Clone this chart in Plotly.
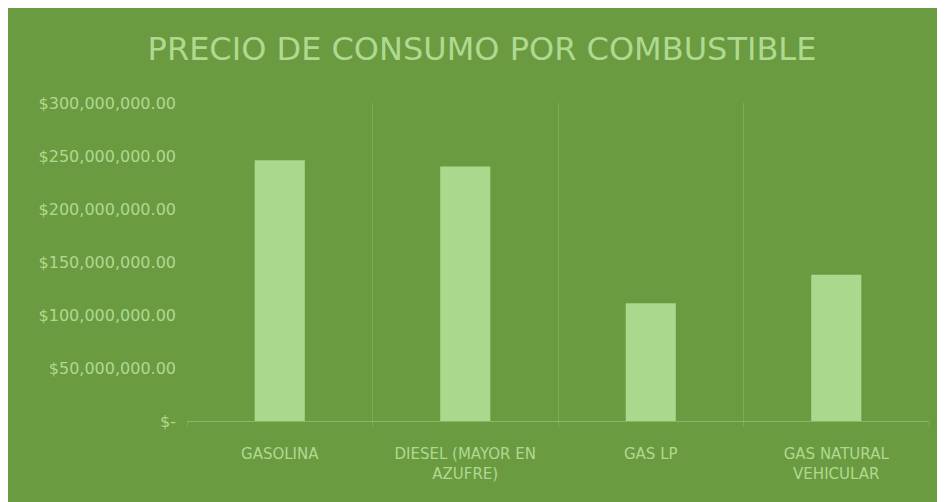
import plotly.graph_objects as go

categories = ["GASOLINA", "DIESEL (MAYOR EN<br>AZUFRE)", "GAS LP", "GAS NATURAL<br>VEHICULAR"]
values = [246_000_000, 240_000_000, 111_000_000, 138_000_000]
tick_vals = [0, 50_000_000, 100_000_000, 150_000_000, 200_000_000, 250_000_000, 300_000_000]
tick_text = ["$-", "$50,000,000.00", "$100,000,000.00", "$150,000,000.00",
             "$200,000,000.00", "$250,000,000.00", "$300,000,000.00"]
title = "PRECIO DE CONSUMO POR COMBUSTIBLE"

bg = "#6a9b41"
bar_col = "#a9d98c"
txt = "#b0d990"
grid = "#7dac57"

# page body has an 8px margin; figure sits at (8, 8)
W, H = 937, 494
L, R, T, B = 179, 16, 95, 81

fig = go.Figure(go.Bar(x=categories, y=values, marker_color=bar_col, marker_line_width=0))

fig.update_layout(
    width=W, height=H,
    margin=dict(l=L, r=R, t=T, b=B),
    paper_bgcolor=bg,
    plot_bgcolor=bg,
    bargap=0.73,
    showlegend=False,
    title=dict(text=title, x=474 / W, xanchor="center", y=1 - 41 / H, yanchor="middle",
               font=dict(family="DejaVu Sans", size=32, color=txt)),
    font=dict(family="DejaVu Sans", color=txt),
    xaxis=dict(showgrid=True, gridcolor=grid, gridwidth=1, tickson="boundaries",
               ticks="outside", ticklen=5, tickcolor=grid,
               showline=True, linecolor="#88b863", linewidth=1,
               tickfont=dict(size=15, color=txt), zeroline=False,
               ticklabelstandoff=19),
    yaxis=dict(range=[0, 300_000_000], tickvals=tick_vals, ticktext=tick_text,
               showgrid=False, zeroline=False, showline=False,
               tickfont=dict(size=16, color=txt), ticks="", ticklabelstandoff=10),
)

fig.write_html("out.html")
